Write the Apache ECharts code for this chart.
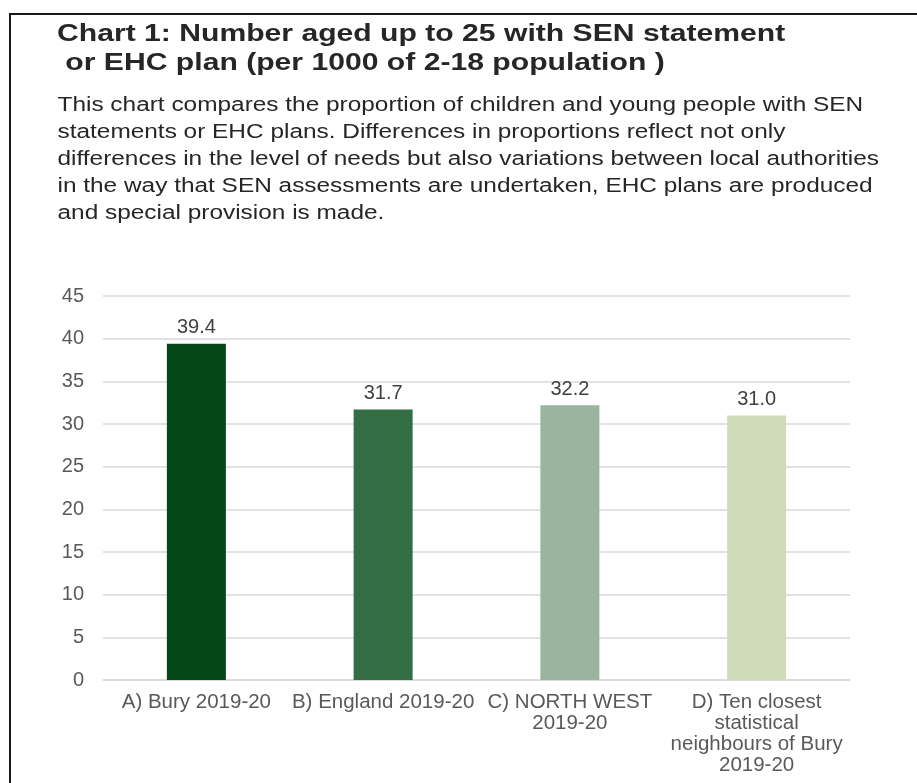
<!DOCTYPE html>
<html>
<head>
<meta charset="utf-8">
<script src="https://cdn.jsdelivr.net/npm/echarts@6/dist/echarts.min.js"></script>
<style>
  html, body { margin: 0; padding: 0; background: #ffffff; }
  #chart { width: 917px; height: 783px; }
</style>
</head>
<body>
<div id="chart"></div>
<script>
// Categories (label text wraps as in the printed report)
const categories = [
  'A) Bury 2019-20',
  'B) England 2019-20',
  'C) NORTH WEST\n2019-20',
  'D) Ten closest\nstatistical\nneighbours of Bury\n2019-20'
];
// Number per 1000 of the 2-18 population
const values = [39.4, 31.7, 32.2, 31.0];
const barColors = ['#034816', '#336d43', '#99b59f', '#d0dbba'];
const yTicks = { min: 0, max: 45, interval: 5 };

const titleLines = [
  'Chart 1: Number aged up to 25 with SEN statement',
  ' or EHC plan (per 1000 of 2-18 population )'
];
const introLines = [
  'This chart compares the proportion of children and young people with SEN',
  'statements or EHC plans. Differences in proportions reflect not only',
  'differences in the level of needs but also variations between local authorities',
  'in the way that SEN assessments are undertaken, EHC plans are produced',
  'and special provision is made.'
];

const FONT = 'Liberation Sans, Arial, sans-serif';

// Heading block: wide-set report typeface, one text element per line
function textLines(lines, x, y0, step, font, stretch) {
  return lines.map((line, i) => ({
    type: 'text',
    x: x,
    y: y0 + i * step,
    scaleX: stretch,
    silent: true,
    style: {
      text: line,
      font: font,
      fill: '#262626',
      textAlign: 'left',
      textVerticalAlign: 'middle'
    }
  }));
}

const chart = echarts.init(document.getElementById('chart'), null, { renderer: 'canvas' });

chart.setOption({
  backgroundColor: '#ffffff',
  animation: false,
  graphic: [
    {
      type: 'polyline',
      shape: { points: [[10, 783], [10, 14], [917, 14]] },
      style: { stroke: '#1a1a1a', lineWidth: 2, fill: null },
      silent: true
    },
    ...textLines(titleLines, 57, 35, 29, 'bold 23px ' + FONT, 1.31),
    ...textLines(introLines, 57.5, 105, 27, '20px ' + FONT, 1.22)
  ],
  grid: { left: 103, right: 67, top: 296, bottom: 103, containLabel: false },
  xAxis: {
    type: 'category',
    data: categories,
    axisLine: { show: true, lineStyle: { color: '#d9d9d9', width: 1.5 } },
    axisTick: { show: false },
    axisLabel: {
      interval: 0,
      margin: 12,
      fontFamily: FONT,
      fontSize: 20.5,
      lineHeight: 21,
      color: '#595959',
      align: 'center'
    }
  },
  yAxis: {
    type: 'value',
    min: yTicks.min,
    max: yTicks.max,
    interval: yTicks.interval,
    axisLine: { show: false },
    axisTick: { show: false },
    splitLine: { lineStyle: { color: '#d9d9d9', width: 1.5 } },
    axisLabel: {
      margin: 19,
      fontFamily: FONT,
      fontSize: 20,
      color: '#595959'
    }
  },
  series: [
    {
      type: 'bar',
      barWidth: '31.6%',
      data: values.map((v, i) => ({ value: v, itemStyle: { color: barColors[i] } })),
      label: {
        show: true,
        position: 'top',
        distance: 6,
        formatter: p => p.value.toFixed(1),
        fontFamily: FONT,
        fontSize: 20,
        color: '#404040'
      }
    }
  ]
});
</script>
</body>
</html>
